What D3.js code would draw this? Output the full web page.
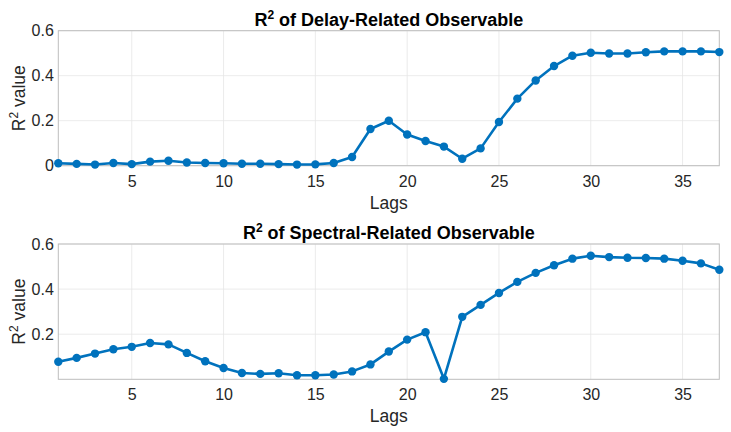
<!DOCTYPE html>
<html><head><meta charset="utf-8">
<script src="https://cdn.jsdelivr.net/npm/d3@7"></script>
<style>body{margin:0;background:#fff}svg{display:block}text{font-family:"Liberation Sans",Arial,Helvetica,sans-serif}</style>
</head><body><svg id="c" width="731" height="432"></svg>
<script>
const lags = d3.range(1, 38);
const delayR2 = [0.011,0.008,0.005,0.012,0.007,0.018,0.022,0.014,0.012,0.011,0.009,0.009,0.007,0.005,0.006,0.012,0.039,0.163,0.200,0.139,0.110,0.085,0.031,0.077,0.194,0.298,0.379,0.443,0.489,0.502,0.499,0.499,0.504,0.508,0.508,0.508,0.505];
const spectralR2 = [0.078,0.095,0.114,0.133,0.144,0.161,0.155,0.117,0.080,0.050,0.028,0.024,0.027,0.018,0.018,0.021,0.035,0.066,0.123,0.176,0.209,0.002,0.277,0.330,0.383,0.432,0.472,0.506,0.535,0.548,0.542,0.539,0.538,0.535,0.526,0.514,0.486];
const xTicks = [5,10,15,20,25,30,35];
const yTicksTop = [0,0.2,0.4,0.6];
const yTicksBottom = [0.2,0.4,0.6];
const titles = ["Delay-Related Observable","Spectral-Related Observable"];

const svg = d3.select("#c");
const L = 58.3, R = 719.3;
const x = d3.scaleLinear().domain([1,37]).range([L,R]);
const color = "#0072BD";

function panel(top, bottom, data, yDomain, yTicks, title, titleY, lagsY){
  const y = d3.scaleLinear().domain(yDomain).range([bottom, top]);
  const g = svg.append("g");
  g.selectAll(".gx").data(xTicks).join("line")
    .attr("x1", d=>x(d)).attr("x2", d=>x(d)).attr("y1", top).attr("y2", bottom)
    .attr("stroke", "#e6e6e6").attr("stroke-width", 0.8);
  g.selectAll(".gy").data(yTicks).join("line")
    .attr("x1", L).attr("x2", R).attr("y1", d=>y(d)).attr("y2", d=>y(d))
    .attr("stroke", "#e6e6e6").attr("stroke-width", 0.8);
  g.append("rect").attr("x", L).attr("y", top).attr("width", R-L).attr("height", bottom-top)
    .attr("fill", "none").attr("stroke", "#bdbdbd").attr("stroke-width", 1);
  const xa = g.append("g").attr("transform", `translate(0,${bottom})`)
    .call(d3.axisBottom(x).tickValues(xTicks).tickSize(0).tickPadding(9.5).tickFormat(d3.format("d")));
  xa.select(".domain").remove();
  xa.selectAll("text").attr("fill", "#262626").style("font-size", "16px");
  const ya = g.append("g").attr("transform", `translate(${L},0)`)
    .call(d3.axisLeft(y).tickValues(yTicks).tickSize(0).tickPadding(4.5).tickFormat(d=> d===0 ? "0" : d3.format(".1f")(d)));
  ya.select(".domain").remove();
  ya.selectAll("text").attr("fill", "#262626").style("font-size", "16px");
  g.append("path").datum(data)
    .attr("fill", "none").attr("stroke", color).attr("stroke-width", 2.6).attr("stroke-linejoin", "round")
    .attr("d", d3.line().x((d,i)=>x(lags[i])).y(d=>y(d)));
  g.selectAll(".pt").data(data).join("circle")
    .attr("cx", (d,i)=>x(lags[i])).attr("cy", d=>y(d)).attr("r", 4.2).attr("fill", color);
  const t = g.append("text").attr("x", (L+R)/2).attr("y", titleY).attr("text-anchor", "middle")
    .attr("font-weight", "bold").attr("fill", "#000").style("font-size", "18px");
  t.append("tspan").text("R");
  t.append("tspan").attr("dy", -7).style("font-size", "12px").text("2");
  t.append("tspan").attr("dy", 7).text(" of " + title);
  g.append("text").attr("x", (L+R)/2).attr("y", lagsY).attr("text-anchor", "middle")
    .attr("fill", "#262626").style("font-size", "17.5px").text("Lags");
  const yl = g.append("text").attr("transform", `translate(24.5,${(top+bottom)/2}) rotate(-90)`)
    .attr("text-anchor", "middle").attr("fill", "#262626").style("font-size", "17.5px");
  yl.append("tspan").text("R");
  yl.append("tspan").attr("dy", -7).style("font-size", "12px").text("2");
  yl.append("tspan").attr("dy", 7).text(" value");
}

panel(30.7, 165.7, delayR2, [0,0.6], yTicksTop, titles[0], 26, 209);
panel(244, 379.3, spectralR2, [0.0,0.6], yTicksBottom, titles[1], 239, 421.5);
</script></body></html>
